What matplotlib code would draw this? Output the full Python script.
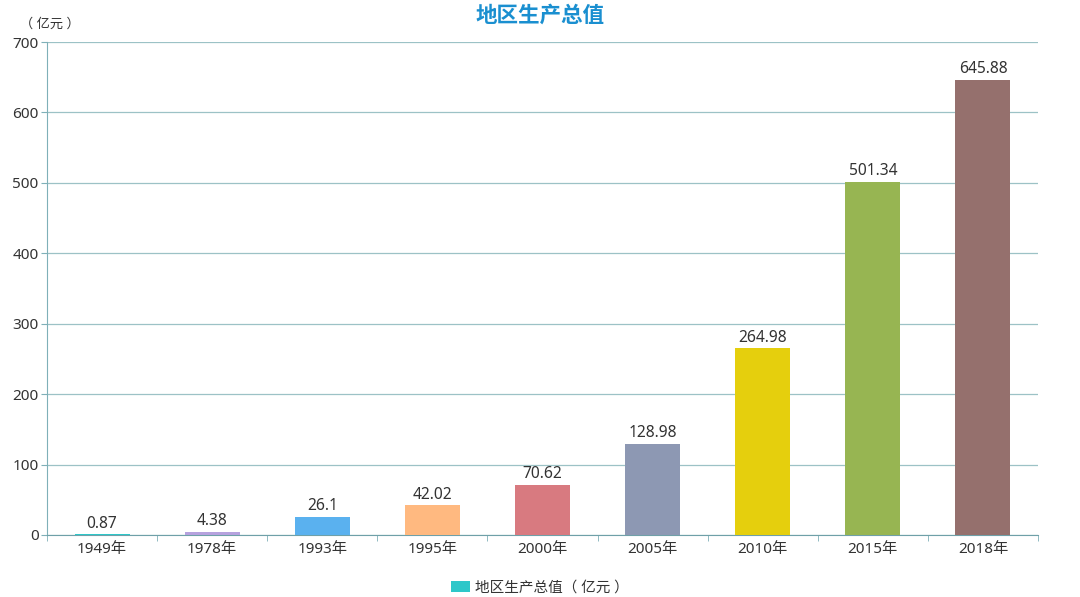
import matplotlib
matplotlib.use("Agg")
import matplotlib.pyplot as plt
from matplotlib.patches import Patch

plt.rcParams['font.family'] = ['Noto Sans', 'Noto Sans CJK SC', 'DejaVu Sans']

categories = ["1949年", "1978年", "1993年", "1995年", "2000年", "2005年", "2010年", "2015年", "2018年"]
values = [0.87, 4.38, 26.1, 42.02, 70.62, 128.98, 264.98, 501.34, 645.88]
labels = ["0.87", "4.38", "26.1", "42.02", "70.62", "128.98", "264.98", "501.34", "645.88"]
colors = ["#2ec7c9", "#b6a2de", "#5ab1ef", "#ffb980", "#d87a80", "#8d98b3", "#e5cf0d", "#97b552", "#95706d"]
yticks = [0, 100, 200, 300, 400, 500, 600, 700]

fig = plt.figure(figsize=(10.8, 5.97), dpi=100)
ax = fig.add_axes([47/1080, 62/597, (1038-47)/1080, (535-42)/597])

x = list(range(len(categories)))
ax.bar(x, values, width=0.5, color=colors, zorder=3)
for xi, v, lab in zip(x, values, labels):
    ax.text(xi, v + 4, lab, ha='center', va='bottom', fontsize=11.2, color='#333333', zorder=4)

ax.set_xlim(-0.5, len(categories) - 0.5)
ax.set_ylim(0, 700)
ax.set_yticks(yticks)
ax.set_yticklabels([str(t) for t in yticks], fontsize=11, color='#333333')
ax.set_xticks(x)
ax.set_xticklabels(categories, fontsize=11, color='#333333')
ax.set_xticks([i - 0.5 for i in range(len(categories) + 1)], minor=True)
ax.tick_params(axis='x', which='major', length=0, pad=5)
ax.tick_params(axis='x', which='minor', length=4, color='#7fb0b8')
ax.tick_params(axis='y', length=4, color='#7fb0b8', pad=2)

ax.grid(axis='y', color='#9cc2c6', linewidth=0.9, zorder=0)
for s in ['top', 'right']:
    ax.spines[s].set_visible(False)
ax.spines['left'].set_color('#7fb0b8')
ax.spines['bottom'].set_color('#6fa0a8')

fig.text(50/1080, 1 - 24/597, "（ 亿元 ）", ha='center', va='center', fontsize=9.5, color='#333333')
fig.text(540/1080, 1 - 16/597, "地区生产总值", ha='center', va='center', fontsize=15.5,
         fontweight='bold', color='#1a8fd0')

handle = Patch(facecolor="#2ec7c9", edgecolor='none')
fig.legend([handle], ["地区生产总值（ 亿元 ）"], loc='center', bbox_to_anchor=(540/1080, 1 - 588/597),
           frameon=False, fontsize=10.5, handlelength=1.3, handleheight=0.8, handletextpad=0.3,
           labelcolor='#333333')

fig.savefig("out.png", dpi=100)
